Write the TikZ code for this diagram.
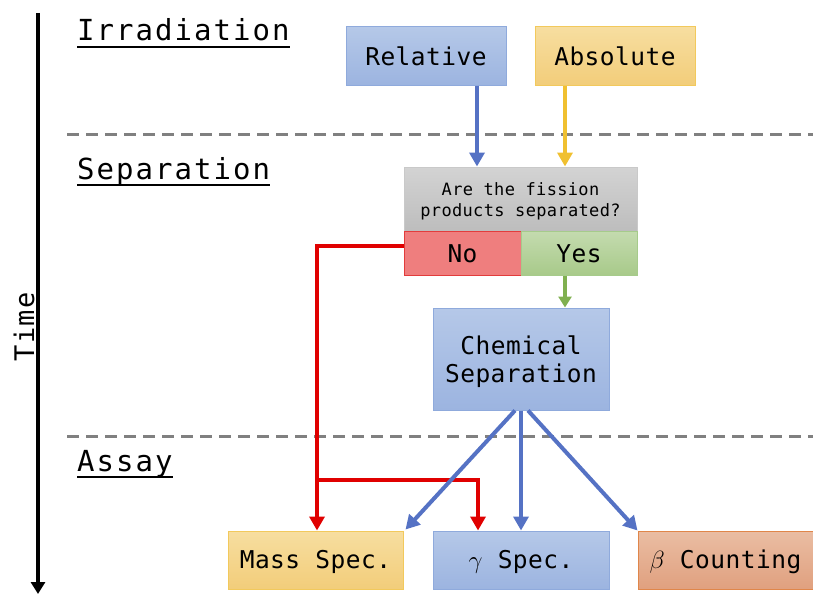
\documentclass[tikz,border=0pt]{standalone}
\usepackage{fontspec}
\setmainfont{DejaVu Sans Mono}
\newfontfamily\monoH[LetterSpace=7]{DejaVu Sans Mono}
\newfontfamily\monoB[LetterSpace=2]{DejaVu Sans Mono}
\newfontfamily\monoT[LetterSpace=5]{DejaVu Sans Mono}
\usetikzlibrary{arrows.meta}
\definecolor{blueT}{HTML}{B5C8E8}
\definecolor{blueBot}{HTML}{9CB4E0}
\definecolor{blueD}{HTML}{8FAADC}
\definecolor{yelT}{HTML}{F7DEA0}
\definecolor{yelBot}{HTML}{F2CD7A}
\definecolor{yelD}{HTML}{F2C95C}
\definecolor{grayT}{HTML}{D3D3D3}
\definecolor{grayBot}{HTML}{BDBDBD}
\definecolor{grayD}{HTML}{C9C9C9}
\definecolor{noF}{HTML}{EF7E7E}
\definecolor{noD}{HTML}{E23C3C}
\definecolor{yesT}{HTML}{C4DBAF}
\definecolor{yesBot}{HTML}{A8CA8A}
\definecolor{yesD}{HTML}{A6CB8B}
\definecolor{orT}{HTML}{EABDA3}
\definecolor{orBot}{HTML}{E0A07F}
\definecolor{orD}{HTML}{E0864A}
\definecolor{arBlue}{HTML}{5572C4}
\definecolor{arYel}{HTML}{F0C030}
\definecolor{arGreen}{HTML}{80B050}
\definecolor{arRed}{HTML}{E00000}
\definecolor{dashG}{HTML}{808080}
\begin{document}
\begin{tikzpicture}[x=1pt,y=-1pt,
  box/.style={draw, line width=1pt, inner sep=0pt, align=center, font=\monoB\fontsize{24.5}{28}\selectfont},
  bluebox/.style={box, draw=blueD, top color=blueT, bottom color=blueBot},
  yelbox/.style={box, draw=yelD, top color=yelT, bottom color=yelBot},
  orbox/.style={box, draw=orD, top color=orT, bottom color=orBot},
  heading/.style={inner sep=0pt, anchor=base west, font=\monoH\fontsize{29}{34}\selectfont},
  uline/.style={line width=1.8pt},
  divider/.style={draw=dashG, line width=3pt, dash pattern=on 12pt off 7pt},
  arr/.style={line width=4pt, -{Triangle[width=15pt,length=14pt]}},
]
\useasboundingbox (0,0) rectangle (813,594);

% time axis
\coordinate (t0) at (38,13);
\coordinate (t1) at (38,594);
\draw[line width=4pt, -{Triangle[width=14pt,length=12pt]}] (t0) -- (t1);
\node[rotate=90, inner sep=0pt, font=\monoT\fontsize{27}{32}\selectfont] (time) at (24,327) {Time};

% dividers
\coordinate (d1a) at (67,134);
\coordinate (d1b) at (813,134);
\coordinate (d2a) at (67,436);
\coordinate (d2b) at (813,436);
\draw[divider] (d1a) -- (d1b);
\draw[divider] (d2a) -- (d2b);

% headings
\node[heading] (irr) at (77,41) {Irradiation};
\node[heading] (sep) at (77,179) {Separation};
\node[heading] (ass) at (77,471) {Assay};
\draw[uline] ([yshift=-6pt]irr.base west) -- ([yshift=-6pt]irr.base east);
\draw[uline] ([yshift=-6pt]sep.base west) -- ([yshift=-6pt]sep.base east);
\draw[uline] ([yshift=-6pt]ass.base west) -- ([yshift=-6pt]ass.base east);

% boxes
\node[bluebox, minimum width=160pt, minimum height=58pt] (rel) at (426,56) {Relative};
\node[yelbox, minimum width=160pt, minimum height=58pt] (abs) at (615,56) {Absolute};
\node[box, draw=grayD, top color=grayT, bottom color=grayBot, minimum width=233pt, minimum height=64pt,
      font=\monoB\fontsize{17}{21}\selectfont] (q) at (520.5,199) {\rule{0pt}{17pt}Are the fission\\products separated?};
\node[box, draw=noD, fill=noF, minimum width=117pt, minimum height=44pt] (no) at (462.5,253) {\rule{0pt}{20pt}No};
\node[box, draw=yesD, top color=yesT, bottom color=yesBot, minimum width=116pt, minimum height=44pt] (yes) at (579,253) {\rule{0pt}{20pt}Yes};
\node[bluebox, minimum width=176pt, minimum height=102pt] (chem) at (521,359) {\rule{0pt}{24.5pt}Chemical\\Separation};
\node[yelbox, minimum width=175pt, minimum height=58pt] (mass) at (315.5,560) {\rule{0pt}{23pt}Mass Spec.};
\node[bluebox, minimum width=176pt, minimum height=58pt] (gam) at (521,560) {\rule{0pt}{23pt}$\gamma$ Spec.};
\node[orbox, minimum width=175pt, minimum height=58pt] (beta) at (725.5,560) {\rule{0pt}{23pt}$\beta$ Counting};

% helper coordinates for vertical connector axes
\coordinate (axR) at (477,0);
\coordinate (axA) at (565,0);
\coordinate (axN) at (317,480);
\coordinate (axG) at (478,0);

% connectors
\draw[arr, arBlue] (rel.south -| axR) -- (q.north -| axR);
\draw[arr, arYel] (abs.south -| axA) -- (q.north -| axA);
\draw[line width=3.5pt, arGreen, -{Triangle[width=13pt,length=11pt]}] (yes.south -| axA) -- (chem.north -| axA);
\draw[arr, arRed] ([yshift=7pt]no.west) -| (mass.north -| axN);
\draw[arr, arRed] (axN) -| (gam.north -| axG);
\draw[arr, arBlue] ([xshift=-6pt]chem.south) -- ([xshift=2pt,yshift=1pt]mass.north east);
\draw[arr, arBlue] (chem.south) -- (gam.north);
\draw[arr, arBlue] ([xshift=7pt]chem.south) -- (beta.north west);
\end{tikzpicture}
\end{document}
